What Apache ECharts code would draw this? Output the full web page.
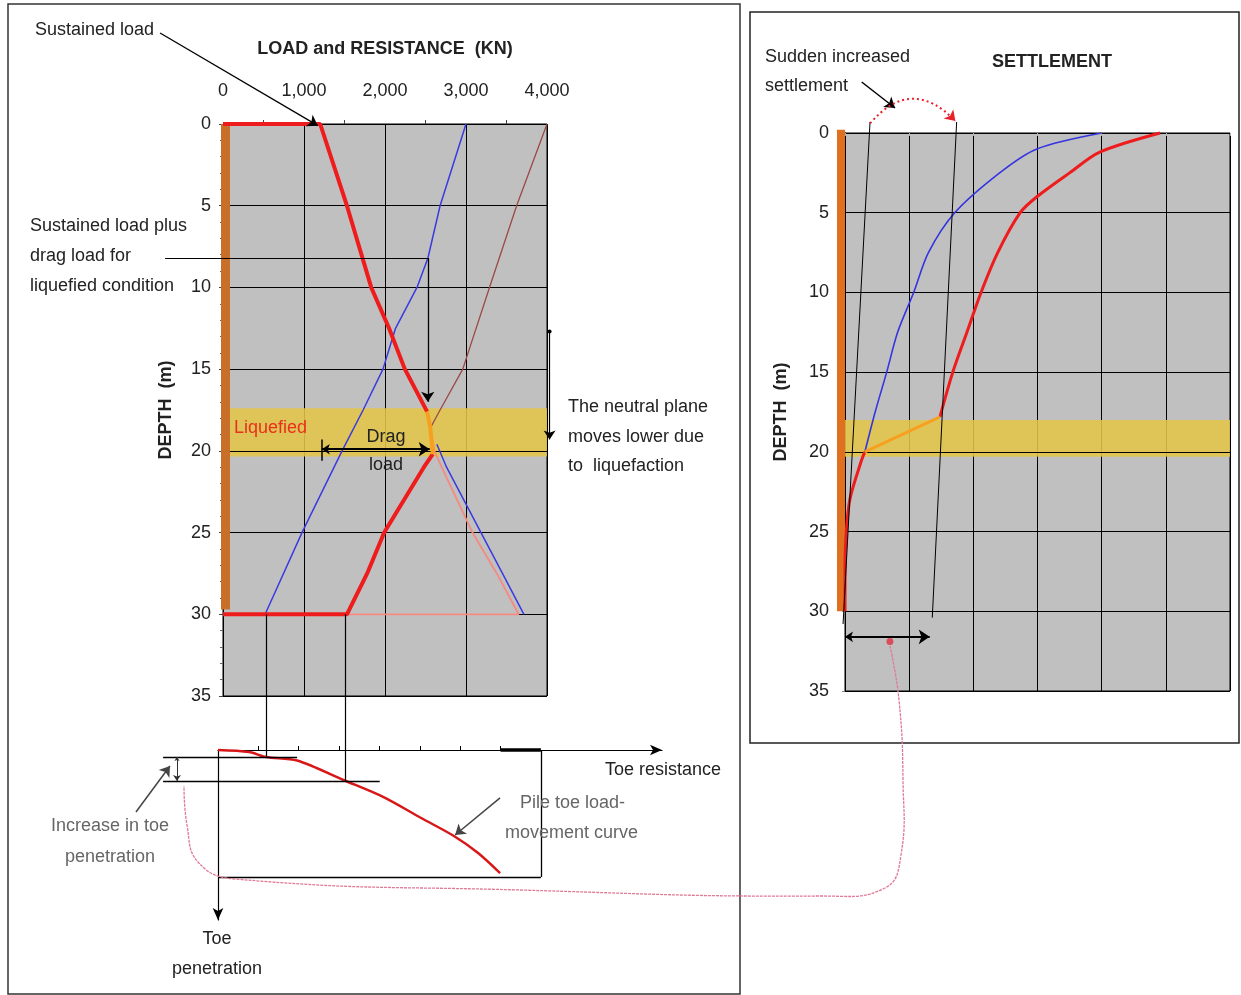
<!DOCTYPE html>
<html><head><meta charset="utf-8">
<script src="https://cdn.jsdelivr.net/npm/echarts@6/dist/echarts.min.js"></script>
<style>html,body{margin:0;padding:0;background:#fff}#c{width:1241px;height:995px}</style>
</head><body><div id="c"></div>
<script>
// ================= DATA =================
// Load & resistance chart (x: kN, y: depth m)
const loadTicks = [0, 1000, 2000, 3000, 4000];
const depthRange = [0, 35];
const liquefiedZoneLeft = [17.4, 20.35];
const liquefiedZoneRight = [18.0, 20.3];
const pileLeft = [[25, 0], [25, 29.7]];
const sustainedLoad = [[0, 0], [1200, 0], [1530, 5], [1830, 10], [2050, 12.5], [2245, 15], [2520, 17.6]];
const neutralSegment = [[2520, 17.6], [2560, 18.6], [2590, 20.2]];
const loadBelow = [[2590, 20.2], [2480, 21], [1990, 25], [1780, 27.5], [1530, 30], [0, 30]];
const shaftResistance = [[3000, 0], [2680, 5], [2530, 8.2], [2395, 10], [2130, 12.5], [1975, 15], [1730, 17.5], [1470, 20], [975, 25], [520, 30]];
const totalResistance = [[4000, 0], [3625, 5], [3290, 10], [2960, 15], [2680, 17.5], [2560, 18.6]];
const resistanceBelow = [[2560, 18.6], [2610, 20], [2700, 21], [3080, 25], [3380, 27.5], [3650, 30], [1530, 30]];
const toeResistanceBelow = [[2640, 19.6], [2760, 21], [3185, 25], [3450, 27.5], [3715, 30]];

// Settlement chart (x: relative settlement units, y: depth m)
const pileRight = [[-0.06, -0.2], [-0.06, 30]];
const settleBefore = [[4.0, 0], [2.99, 1], [2.41, 2.5], [1.71, 5], [1.3, 7.5], [1.07, 10], [0.82, 12.5], [0.65, 15], [0.47, 17.5], [0.31, 20]];
const settleAfter = [[4.91, 0], [3.97, 1.2], [3.5, 2.5], [2.99, 4], [2.73, 5], [2.38, 7.5], [2.12, 10], [1.9, 12.5], [1.68, 15], [1.48, 17.8]];
const settleJump = [[1.48, 17.8], [0.31, 20]];
const settleBelow = [[0.31, 20], [0.26, 20.5], [0.08, 22.9], [0.02, 25], [0, 27.5], [0, 30]];

// Toe load-movement sketch (x: toe resistance kN, y: toe penetration, arbitrary)
const toeCurve = [[0, 0], [384, 0.12], [594, 0.41], [979, 0.62], [1561, 1.78], [2045, 2.76], [2516, 4.0], [2937, 5.1], [3222, 6.06], [3494, 7.24]];
const toeTicks = [500, 1000, 1500, 2000, 2500, 3000, 3500];

// Annotation guides (data coordinates of each panel)
const sustainedPointer = [[[-777, -5.57], [1171, 0.1]]];
const dragPointerH = [[[-715, 8.2], [2528, 8.2]]];
const dragPointerV = [[[2528, 8.2], [2528, 17.0]]];
const dragLoadSpan = [[[1220, 19.9], [2552, 19.9]]];
const dragLoadBar = [[[1220, 19.3], [1220, 20.6]]];
const neutralShift = [[[4032, 12.7], [4032, 19.3]]];
const depth20Line = [[[0, 20], [4000, 20]]];
const toeLinks = [[[530, 30], [530, 38.7]], [[1504, 30], [1504, 40.2]]];
const settleGuides = [[[0.39, -0.69], [-0.03, 30.8]], [[1.74, -0.69], [1.36, 30.4]]];
const settleSpan = [[[0.0, 31.6], [1.32, 31.6]]];
const suddenPointer = [[[0.26, -3.2], [0.78, -1.57]]];
const suddenArc = [[[0.39, -0.6], [1.72, -0.75]]];
const settleDot = [[0.70, 31.9]];
const toeLevels = [[[-680, 0.41], [980, 0.41]], [[-680, 1.82], [2003, 1.82]]];
const toeBox = [[[4000, 0], [4000, 7.47]], [[4000, 7.47], [0, 7.47]]];
const toeThick = [[[3500, 0], [4000, 0]]];
const toeIncrease = [[[-508, 0.41], [-508, 1.82]]];
const toeIncreasePointer = [[[-1016, 3.65], [-595, 0.94]]];
const curvePointer = [[[3494, 2.82], [2937, 5.0]]];

// ================= CHART =================
const FONT = '"Liberation Sans", Arial, sans-serif';
const chart = echarts.init(document.getElementById('c'));

function lineS(xi, data, color, width, extra) {
  return Object.assign({type: 'line', xAxisIndex: xi, yAxisIndex: xi, data: data, symbol: 'none',
    showSymbol: false, lineStyle: {color: color, width: width}, silent: true, animation: false}, extra || {});
}
function linesS(xi, segs, color, width, symbol, symbolSize, extra) {
  return Object.assign({type: 'lines', coordinateSystem: 'cartesian2d', xAxisIndex: xi, yAxisIndex: xi,
    clip: false, silent: true, animation: false, symbol: symbol || 'none', symbolSize: symbolSize || 8,
    lineStyle: {color: color, width: width, opacity: 1}, data: segs.map(c => ({coords: c})), z: 6}, extra || {});
}
function txt(x, y, text, opts) {
  opts = opts || {};
  return {type: 'text', x: x, y: y, z: 50, silent: true,
    style: {text: text, fontFamily: FONT, fontSize: opts.size || 18, fontWeight: opts.bold ? 'bold' : 'normal',
      fill: opts.color || '#222', align: opts.align || 'left', verticalAlign: 'middle'}};
}

const axisBlack = {show: true, lineStyle: {color: '#000', width: 1}};

const option = {
  animation: false,
  backgroundColor: '#fff',
  textStyle: {fontFamily: FONT},
  grid: [
    {left: 223, top: 124, width: 324, height: 572, show: true, backgroundColor: '#c0c0c0', borderColor: '#000', borderWidth: 1},
    {left: 845, top: 133, width: 385, height: 558, show: true, backgroundColor: '#c0c0c0', borderColor: '#000', borderWidth: 1},
    {left: 218, top: 750, width: 444, height: 170, show: false}
  ],
  xAxis: [
    {gridIndex: 0, type: 'value', position: 'top', min: loadTicks[0], max: loadTicks[loadTicks.length - 1], interval: 1000,
      axisLine: axisBlack, axisTick: {show: false},
      minorTick: {show: true, splitNumber: 2, length: 4, lineStyle: {color: '#444'}},
      splitLine: {show: true, lineStyle: {color: '#000', width: 1}},
      axisLabel: {margin: 24, fontSize: 18, color: '#222', formatter: v => v.toLocaleString('en-US')},
      name: 'LOAD and RESISTANCE  (KN)', nameLocation: 'middle', nameGap: 66,
      nameTextStyle: {fontSize: 18, fontWeight: 'bold', color: '#222'}},
    {gridIndex: 1, type: 'value', position: 'bottom', min: 0, max: 6, interval: 1,
      axisLine: axisBlack, axisTick: {show: true, length: 3, lineStyle: {color: '#aaa'}},
      splitLine: {show: true, lineStyle: {color: '#000', width: 1}}, axisLabel: {show: false}},
    {gridIndex: 2, type: 'value', position: 'top', min: 0, max: 5500,
      axisLine: {show: true, symbol: ['none', 'arrow'], symbolSize: [8, 12], lineStyle: {color: '#000', width: 1.2}},
      axisTick: {show: true, customValues: toeTicks, length: 4, lineStyle: {color: '#000'}},
      axisLabel: {show: false}, splitLine: {show: false}}
  ],
  yAxis: [
    {gridIndex: 0, type: 'value', inverse: true, min: depthRange[0], max: depthRange[1], interval: 5,
      axisLine: axisBlack, axisTick: {show: true, length: 4, lineStyle: {color: '#444'}},
      minorTick: {show: true, splitNumber: 5, length: 3, lineStyle: {color: '#666'}},
      splitLine: {show: true, lineStyle: {color: '#000', width: 1}},
      axisLabel: {margin: 12, fontSize: 18, color: '#222'},
      name: 'DEPTH  (m)', nameLocation: 'middle', nameGap: 48, nameRotate: 90,
      nameTextStyle: {fontSize: 18, fontWeight: 'bold', color: '#222'}},
    {gridIndex: 1, type: 'value', inverse: true, min: depthRange[0], max: depthRange[1], interval: 5,
      axisLine: axisBlack, axisTick: {show: true, length: 3, lineStyle: {color: '#888'}},
      splitLine: {show: true, lineStyle: {color: '#000', width: 1}},
      axisLabel: {margin: 16, fontSize: 18, color: '#222'},
      name: 'DEPTH  (m)', nameLocation: 'middle', nameGap: 55, nameRotate: 90,
      nameTextStyle: {fontSize: 18, fontWeight: 'bold', color: '#222'}},
    {gridIndex: 2, type: 'value', inverse: true, min: 0, max: 10,
      axisLine: {show: true, symbol: ['arrow', 'none'], symbolSize: [8, 12], lineStyle: {color: '#000', width: 1.2}},
      axisTick: {show: false}, axisLabel: {show: false}, splitLine: {show: false}}
  ],
  series: [
    // ---- left chart ----
    lineS(0, [], '#000', 0, {markArea: {silent: true, itemStyle: {color: 'rgba(227,197,72,0.88)'},
      data: [[{yAxis: liquefiedZoneLeft[0]}, {yAxis: liquefiedZoneLeft[1]}]]}}),
    linesS(0, depth20Line, '#000', 1, 'none', 0, {z: 3}),
    linesS(0, [pileLeft], '#c8702a', 9, 'none', 0, {z: 3}),
    lineS(0, toeResistanceBelow, '#3a3ae0', 1.5),
    lineS(0, resistanceBelow, '#f58a80', 1.8),
    lineS(0, totalResistance, '#9a4848', 1.3),
    lineS(0, shaftResistance, '#3a3ae0', 1.5),
    lineS(0, sustainedLoad, '#ee1c1c', 4, {clip: false, z: 4}),
    lineS(0, loadBelow, '#ee1c1c', 4, {clip: false, z: 4}),
    lineS(0, neutralSegment, '#f7a020', 4, {z: 5}),
    linesS(0, toeLinks, '#000', 1.2),
    linesS(0, dragPointerH, '#000', 1.2),
    linesS(0, dragLoadBar, '#000', 1.5),
    linesS(0, sustainedPointer.concat(dragPointerV), '#000', 1.3, ['none', 'arrow'], [7, 10]),
    linesS(0, dragLoadSpan, '#000', 2, ['arrow', 'arrow'], [8, 11]),
    linesS(0, neutralShift, '#000', 1.2, ['circle', 'arrow'], [4, 9]),
    // ---- right chart ----
    lineS(1, [], '#000', 0, {markArea: {silent: true, itemStyle: {color: 'rgba(227,197,72,0.88)'},
      data: [[{yAxis: liquefiedZoneRight[0]}, {yAxis: liquefiedZoneRight[1]}]]}}),
    linesS(1, [[[0, 20], [6, 20]]], '#000', 1, 'none', 0, {z: 3}),
    linesS(1, [pileRight], '#e07020', 8, 'none', 0, {z: 3}),
    lineS(1, settleBefore, '#3434e0', 1.6, {smooth: 0.3}),
    lineS(1, settleAfter, '#ee1c1c', 3, {smooth: 0.3, clip: false}),
    lineS(1, settleBelow, '#ee1c1c', 3, {smooth: 0.3, clip: false}),
    lineS(1, settleJump, '#f7a020', 3),
    linesS(1, settleGuides, '#000', 1),
    linesS(1, settleSpan, '#000', 2, ['arrow', 'arrow'], [8, 11]),
    linesS(1, suddenPointer, '#000', 1.5, ['none', 'arrow'], [7, 10]),
    linesS(1, suddenArc, '#e8202a', 2, ['none', 'arrow'], [7, 10], {lineStyle: {color: '#e8202a', width: 2, opacity: 1, type: [2, 3], curveness: 0.55}}),
    {type: 'scatter', xAxisIndex: 1, yAxisIndex: 1, data: settleDot, symbolSize: 7, itemStyle: {color: '#e03040'}, silent: true, z: 7, clip: false},
    // ---- toe sketch ----
    lineS(2, toeCurve, '#d81818', 2.5, {smooth: 0.3, clip: false}),
    linesS(2, toeLevels, '#000', 1.3),
    linesS(2, toeBox, '#000', 1.3),
    linesS(2, toeThick, '#000', 3.5),
    linesS(2, toeIncrease, '#333', 1, ['arrow', 'arrow'], [4, 6]),
    linesS(2, toeIncreasePointer.concat(curvePointer), '#444', 1.5, ['none', 'arrow'], [7, 10])
  ],
  graphic: [
    {type: 'rect', shape: {x: 8, y: 4, width: 732, height: 990}, style: {fill: 'none', stroke: '#333', lineWidth: 1.5}, silent: true},
    {type: 'rect', shape: {x: 750, y: 12, width: 489, height: 731}, style: {fill: 'none', stroke: '#222', lineWidth: 1.5}, silent: true},
    {type: 'polyline', silent: true, z: 40,
      shape: {smooth: 0.45, points: [[890, 646], [899, 700], [903, 780], [901, 855], [885, 888], [820, 896], [520, 890], [235, 879], [198, 862], [187, 825], [184, 786]]},
      style: {fill: 'none', stroke: '#e07a95', lineWidth: 1.3, lineDash: [3, 1]}},
    txt(35, 30, 'Sustained load'),
    txt(30, 226, 'Sustained load plus'),
    txt(30, 256, 'drag load for'),
    txt(30, 286, 'liquefied condition'),
    txt(234, 428, 'Liquefied', {color: '#e8301c'}),
    txt(386, 437, 'Drag', {align: 'center'}),
    txt(386, 465, 'load', {align: 'center'}),
    txt(568, 407, 'The neutral plane'),
    txt(568, 437, 'moves lower due'),
    txt(568, 466, 'to  liquefaction'),
    txt(605, 770, 'Toe resistance'),
    txt(520, 803, 'Pile toe load-', {color: '#666'}),
    txt(505, 833, 'movement curve', {color: '#666'}),
    txt(110, 826, 'Increase in toe', {align: 'center', color: '#666'}),
    txt(110, 857, 'penetration', {align: 'center', color: '#666'}),
    txt(217, 939, 'Toe', {align: 'center'}),
    txt(217, 969, 'penetration', {align: 'center'}),
    txt(765, 57, 'Sudden increased'),
    txt(765, 86, 'settlement'),
    txt(992, 62, 'SETTLEMENT', {bold: true})
  ]
};
chart.setOption(option);
</script>
</body></html>
